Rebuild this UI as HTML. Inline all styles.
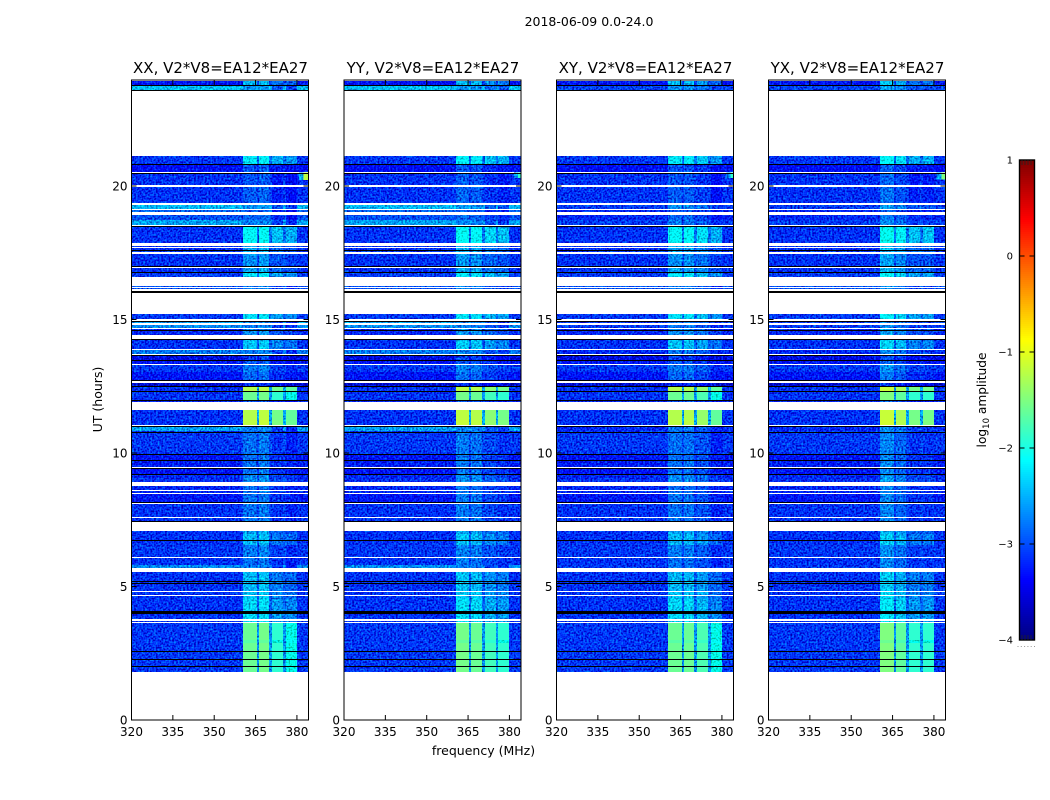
<!DOCTYPE html>
<html lang="en">
<head>
<meta charset="utf-8">
<title>2018-06-09 0.0-24.0</title>
<style>
html,body{margin:0;padding:0;background:#fff}
svg{display:block}
text{font-family:"DejaVu Sans","Liberation Sans",sans-serif;fill:#000}
</style>
</head>
<body>
<svg id="chart" xmlns="http://www.w3.org/2000/svg" width="1050" height="800" viewBox="0 0 1050 800">
  <defs>
    <filter id="grain" filterUnits="objectBoundingBox" x="0" y="0" width="1" height="1" color-interpolation-filters="sRGB">
      <feTurbulence type="fractalNoise" baseFrequency="0.55" numOctaves="1" seed="4" result="n"/>
      <feColorMatrix in="n" type="matrix" values="0 0 0 0 0  1 0 0 0 0  1 0 0 0 0  0 0 0 0 1" result="g"/>
      <feComposite in="SourceGraphic" in2="g" operator="arithmetic" k1="0" k2="1" k3="1.3" k4="-0.65" result="m"/>
      <feComposite in="m" in2="SourceAlpha" operator="in"/>
    </filter>
  </defs>
  <text x="589" y="26" font-size="12.5" text-anchor="middle">2018-06-09 0.0-24.0</text>
  <text x="483.5" y="755" font-size="12.5" text-anchor="middle">frequency (MHz)</text>
  <text transform="translate(102,399.5) rotate(-90)" font-size="12.5" text-anchor="middle">UT (hours)</text>
  <text transform="translate(986,400) rotate(-90)" font-size="12.2" text-anchor="middle">log<tspan font-size="8.5" dy="3">10</tspan><tspan dy="-3"> amplitude</tspan></text>
</svg>
<script>
// ---- panels and axes ----
const panelTitles = ["XX, V2*V8=EA12*EA27", "YY, V2*V8=EA12*EA27", "XY, V2*V8=EA12*EA27", "YX, V2*V8=EA12*EA27"];
const panelIsParallel = [true, true, false, false];
const freqTicks = [320, 335, 350, 365, 380];
const timeTicks = [0, 5, 10, 15, 20];
const colorTicks = [1, 0, -1, -2, -3, -4];

// ---- frequency columns (MHz): background, 4 spectral windows and the gaps between ----
const channelEdges = [320, 360.5, 365.4, 366.2, 370, 371, 375, 375.9, 380, 384.2];
const channelKinds = ["bg", "w0", "gap", "w1", "gap", "w2", "gap", "w3", "bg"];

// ---- observing bands (UT hours, top to bottom); anything not covered is blank ----
const bandTop = [23.95,23.775,21.14,20.81,20.48,19.98,19.30,19.11,18.90,18.72,18.48,17.76,17.69,17.58,17.45,16.93,16.84,16.75,16.26,16.17,
  15.22,14.91,14.81,14.63,14.24,13.84,13.65,13.48,13.28,13.03,12.64,12.49,12.31,11.97,
  11.60,11.23,10.99,10.81,9.96,9.70,9.42,9.16,9.01,8.77,8.57,8.45,8.08,7.58,
  7.09,6.95,6.55,6.06,5.81,5.56,4.81,4.65,4.52,3.72,3.63,2.98,2.88];
const bandBottom = [23.80,23.61,20.84,20.52,20.02,19.36,19.15,19.02,18.73,18.55,17.86,17.73,17.62,17.52,17.02,16.87,16.77,16.60,16.22,16.13,
  15.00,14.86,14.67,14.41,13.91,13.70,13.48,13.33,13.05,12.68,12.52,12.34,11.99,11.90,
  11.25,11.03,10.83,9.98,9.72,9.46,9.19,9.03,8.90,8.63,8.49,8.11,7.61,7.41,
  6.98,6.57,6.10,5.81,5.69,4.85,4.69,4.55,3.78,3.66,3.01,2.90,1.79];
// log10 amplitude of the off-window background, parallel hands (XX, YY)
const bgParallel = [-3.3,-2.45,-3.12,-3.35,-3.15,-3.15,-2.5,-2.9,-3.0,-2.6,-3.15,-3.15,-3.15,-3.15,-3.15,-3.15,-3.15,-3.1,-3.0,-3.0,
  -3.12,-2.6,-2.7,-3.2,-3.15,-2.8,-3.5,-3.3,-3.12,-3.3,-3.6,-3.15,-3.15,-3.2,
  -3.15,-3.15,-2.6,-3.12,-3.3,-3.25,-3.3,-3.2,-3.15,-3.2,-3.2,-3.3,-3.15,-3.15,
  -3.15,-3.15,-3.12,-3.15,-2.7,-3.15,-3.15,-3.15,-3.15,-3.15,-3.12,-3.12,-3.12];
// log10 amplitude of the off-window background, cross hands (XY, YX)
const bgCross = [-3.3,-3.05,-3.12,-3.35,-3.15,-3.15,-3.1,-3.2,-3.2,-3.1,-3.15,-3.15,-3.15,-3.15,-3.15,-3.15,-3.15,-3.1,-3.0,-3.0,
  -3.12,-3.1,-3.1,-3.2,-3.15,-3.2,-3.5,-3.3,-3.12,-3.3,-3.6,-3.15,-3.15,-3.2,
  -3.15,-3.15,-3.2,-3.12,-3.3,-3.25,-3.3,-3.2,-3.15,-3.2,-3.2,-3.3,-3.15,-3.15,
  -3.15,-3.15,-3.12,-3.15,-3.1,-3.15,-3.15,-3.15,-3.15,-3.15,-3.12,-3.12,-3.12];
// log10 amplitude inside the spectral windows
const windowLevel = [-2.5,-2.7,-2.25,-3.0,-3.0,-2.95,-2.7,-3.0,-2.9,-2.8,-2.15,-2.6,-2.6,-2.6,-2.7,-2.6,-2.6,-2.3,-2.8,-2.8,
  -2.3,-2.8,-2.8,-2.7,-2.45,-2.8,-3.1,-3.0,-2.8,-2.9,-3.2,-1.25,-1.6,-3.0,
  -1.25,-1.2,-2.8,-2.85,-2.85,-2.85,-2.85,-2.75,-2.7,-2.85,-2.85,-2.85,-2.85,-2.85,
  -2.6,-2.5,-2.8,-2.85,-2.85,-2.5,-2.45,-2.45,-2.35,-2.35,-1.6,-1.7,-1.6];
// per-panel offsets of the four windows relative to windowLevel
const windowOffsetXX = [0.0, 0.05, -0.3, -0.4];
const windowOffsetYY = [0.05, 0.0, -0.2, -0.3];
const windowOffsetXY = [0.0, 0.0, -0.15, -0.4];
const windowOffsetYX = [0.1, -0.05, -0.3, -0.3];
const windowOffsets = [windowOffsetXX, windowOffsetYY, windowOffsetXY, windowOffsetYX];

// ---- flagged integrations drawn as black lines (UT hours) ----
const flaggedTimes = [23.80,23.61,20.83,20.50,18.52,17.61,17.01,16.77,16.07,16.03,14.94,14.59,14.26,13.66,13.47,12.72,12.51,12.34,11.99,11.00,10.77,9.97,9.72,9.45,9.20,8.18,7.45,6.75,5.20,5.13,4.10,4.06,4.00,2.57,2.30,2.03];

// ---- interference patch at the upper band edge ----
const patchFreqStart = [382.4, 383.2, 383.2, 382.8];
const patchFringeStart = [380.8, 381.6, 381.6, 381];
const patchTop = [20.50, 20.50, 20.50, 20.50];
const patchBottom = [20.22, 20.30, 20.30, 20.25];
const patchLevel = [-1.2, -1.9, -1.9, -1.5];
const patchFringeLevel = [-2.5, -2.7, -2.7, -2.6];

// ---- layout ----
const SVG_NS = "http://www.w3.org/2000/svg";
const svg = document.getElementById("chart");
const panelLeft = [131.5, 344, 556.5, 768.5];
const panelWidth = 177;
const plotTop = 80, plotBottom = 720;
const freqMin = 320, freqMax = 384.2;
const timeMin = 0, timeMax = 23.97;
const cbLeft = 1019.5, cbRight = 1034.5, cbTop = 160, cbBottom = 640;
const colorMin = -4, colorMax = 1;
const smoothAbove = -2.0;

function xScale(panel, f) { return panelLeft[panel] + (f - freqMin) / (freqMax - freqMin) * panelWidth; }
function yScale(h) { return plotBottom - (h - timeMin) / (timeMax - timeMin) * (plotBottom - plotTop); }
function cbScale(v) { return cbBottom - (v - colorMin) / (colorMax - colorMin) * (cbBottom - cbTop); }
function clamp01(v) { return Math.max(0, Math.min(1, v)); }
function jet(v) {
  const t = clamp01((v - colorMin) / (colorMax - colorMin));
  const r = clamp01(1.5 - Math.abs(4 * t - 3));
  const g = clamp01(1.5 - Math.abs(4 * t - 2));
  const b = clamp01(1.5 - Math.abs(4 * t - 1));
  return "rgb(" + Math.round(r * 255) + "," + Math.round(g * 255) + "," + Math.round(b * 255) + ")";
}
function make(tag, attrs, parent) {
  const el = document.createElementNS(SVG_NS, tag);
  for (const k in attrs) el.setAttribute(k, attrs[k]);
  parent.appendChild(el);
  return el;
}
function cellLevel(panel, band, kind) {
  const bg = panelIsParallel[panel] ? bgParallel[band] : bgCross[band];
  const win = windowLevel[band];
  if (kind === "bg") return bg;
  if (kind === "gap") return bg + 0.3 * (win - bg);
  return win + windowOffsets[panel][Number(kind.slice(1))];
}
function fmt(v) { return v < 0 ? "\u2212" + Math.abs(v) : String(v); }

panelTitles.forEach(function (title, p) {
  const group = make("g", {}, svg);
  
  

  const heat = make("g", { filter: "url(#grain)", "shape-rendering": "crispEdges" }, group);
  
  
  const smooth = make("g", { "shape-rendering": "crispEdges" }, group);
  
  
  bandTop.forEach(function (top, b) {
    channelKinds.forEach(function (kind, c) {
      const x0 = Math.round(xScale(p, channelEdges[c])), x1 = Math.round(xScale(p, channelEdges[c + 1]));
      const y0 = Math.round(yScale(top)), y1 = Math.round(yScale(bandBottom[b]));
      const level = cellLevel(p, b, kind);
      const cell = make("rect", { x: x0, y: y0, width: x1 - x0, height: Math.max(1, y1 - y0), fill: jet(level) }, level > smoothAbove ? smooth : heat);
      
      
    });
  });
  const fringeX = xScale(p, patchFringeStart[p]);
  const fringe = make("rect", { x: fringeX, y: yScale(patchTop[p]), width: xScale(p, freqMax) - fringeX, height: yScale(patchBottom[p]) - yScale(patchTop[p]), fill: jet(patchFringeLevel[p]) }, heat);
  
  
  const patchX = xScale(p, patchFreqStart[p]);
  const patch = make("rect", { x: patchX, y: yScale(patchTop[p]), width: xScale(p, freqMax) - patchX, height: yScale(patchBottom[p]) - yScale(patchTop[p]), fill: jet(patchLevel[p]) }, smooth);
  
  

  const flags = make("g", { "shape-rendering": "crispEdges" }, group);
  
  
  flaggedTimes.forEach(function (h) {
    const line = make("rect", { x: xScale(p, freqMin), y: Math.round(yScale(h)), width: panelWidth, height: 1, fill: "#000" }, flags);
    
    
  });

  const frame = make("rect", { x: panelLeft[p], y: plotTop, width: panelWidth, height: plotBottom - plotTop, fill: "none", stroke: "#000", "stroke-width": 1 }, group);
  
  

  const tl = make("text", { x: panelLeft[p] + panelWidth / 2 + 0.5, y: 73, "font-size": 15, "text-anchor": "middle" }, group);
  
  
  tl.textContent = title;

  freqTicks.forEach(function (f) {
    const x = xScale(p, f);
    const t1 = make("line", { x1: x, x2: x, y1: plotBottom, y2: plotBottom - 5, stroke: "#000" }, group);
    
    
    const t2 = make("line", { x1: x, x2: x, y1: plotTop, y2: plotTop + 5, stroke: "#000" }, group);
    
    
    const lab = make("text", { x: x, y: 736, "font-size": 12, "text-anchor": "middle" }, group);
    
    
    lab.textContent = String(f);
  });
  timeTicks.forEach(function (h) {
    const y = yScale(h);
    const t1 = make("line", { x1: panelLeft[p], x2: panelLeft[p] + 5, y1: y, y2: y, stroke: "#000" }, group);
    
    
    const t2 = make("line", { x1: panelLeft[p] + panelWidth, x2: panelLeft[p] + panelWidth - 5, y1: y, y2: y, stroke: "#000" }, group);
    
    
    const lab = make("text", { x: panelLeft[p] - 4, y: y + 4.5, "font-size": 12, "text-anchor": "end" }, group);
    
    
    lab.textContent = String(h);
  });
});

// ---- colorbar ----
const cb = make("g", {}, svg);


const ramp = make("g", { "shape-rendering": "crispEdges" }, cb);


for (let y = cbTop; y < cbBottom; y += 2) {
  const v = colorMin + (cbBottom - y - 1) / (cbBottom - cbTop) * (colorMax - colorMin);
  make("rect", { x: cbLeft, y: y, width: cbRight - cbLeft, height: 2, fill: jet(v) }, ramp);
}
const cbFrame = make("rect", { x: cbLeft, y: cbTop, width: cbRight - cbLeft, height: cbBottom - cbTop, fill: "none", stroke: "#000", "stroke-width": 1.4 }, cb);


colorTicks.forEach(function (v) {
  const y = cbScale(v);
  const a = make("line", { x1: cbLeft, x2: cbLeft + 5, y1: y, y2: y, stroke: "#000" }, cb);
  
  
  const b = make("line", { x1: cbRight, x2: cbRight - 5, y1: y, y2: y, stroke: "#000" }, cb);
  
  
  const lab = make("text", { x: 1013, y: y + 3.5, "font-size": 10, "text-anchor": "end" }, cb);
  
  
  lab.textContent = fmt(v);
});
for (let x = cbLeft + 2.5; x < cbRight - 1; x += 3) {
  const a = make("line", { x1: x, x2: x, y1: cbTop, y2: cbTop + 5, stroke: "#222", "stroke-width": 0.8 }, cb);
  
  
  const b = make("line", { x1: x, x2: x, y1: cbBottom, y2: cbBottom - 5, stroke: "#222", "stroke-width": 0.8 }, cb);
  
  
}
for (let x = 1017.5; x < 1035; x += 3.3) {
  const d = make("rect", { x: x, y: 646, width: 1, height: 1, fill: "#999" }, cb);
  
  
}
</script>
</body>
</html>
